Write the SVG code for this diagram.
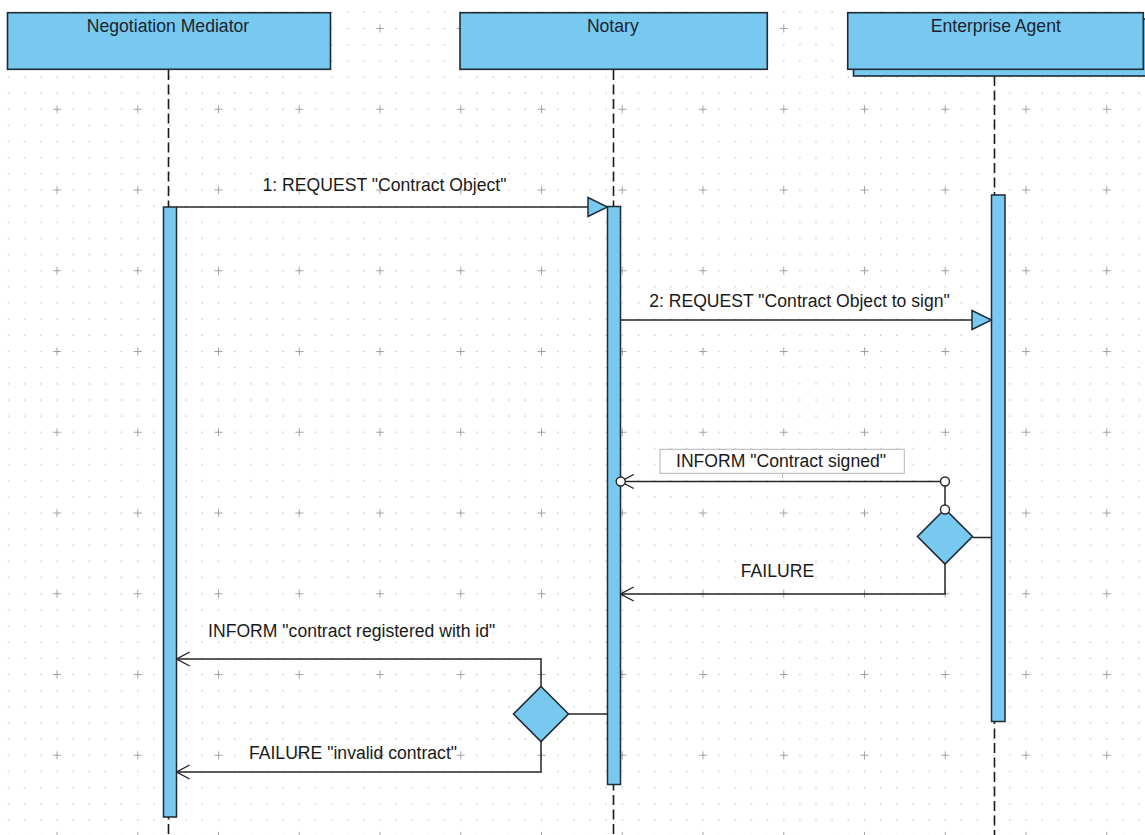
<svg xmlns="http://www.w3.org/2000/svg" width="1145" height="835" viewBox="0 0 1145 835">
  <style>
    .head { fill: #78c9ef; stroke: #1e2a35; stroke-width: 1.6; }
    .bar { fill: #78c9ef; stroke: #1e2a35; stroke-width: 1.5; }
    .life { fill: none; stroke: #1a1a1a; stroke-width: 1.6; stroke-dasharray: 10 4.5; }
    .msg { fill: none; stroke: #262626; stroke-width: 1.5; }
    .gate { fill: #ffffff; stroke: #262626; stroke-width: 1.4; }
    .diamond { fill: #78c9ef; stroke: #1e2a35; stroke-width: 1.6; }
    .title { font-family: "Liberation Sans", Arial, sans-serif; font-size: 17.6px; fill: #1a2430; text-anchor: middle; }
    .label { font-family: "Liberation Sans", Arial, sans-serif; font-size: 17.6px; fill: #1a1a1a; text-anchor: middle; }
  </style>
  <defs>
    <!-- drawing-sheet grid: small dots every 16.15px, a cross every 5th step -->
    <pattern id="grid" patternUnits="userSpaceOnUse" x="16.625" y="-11.875" width="80.75" height="80.75">
      <g fill="#c2c2c2">
        <rect x="7.4" y="7.4" width="1.4" height="1.4"/><rect x="23.5" y="7.4" width="1.4" height="1.4"/><rect x="39.7" y="7.4" width="1.4" height="1.4"/><rect x="55.8" y="7.4" width="1.4" height="1.4"/><rect x="72" y="7.4" width="1.4" height="1.4"/>
        <rect x="7.4" y="23.5" width="1.4" height="1.4"/><rect x="23.5" y="23.5" width="1.4" height="1.4"/><rect x="39.7" y="23.5" width="1.4" height="1.4"/><rect x="55.8" y="23.5" width="1.4" height="1.4"/><rect x="72" y="23.5" width="1.4" height="1.4"/>
        <rect x="7.4" y="39.7" width="1.4" height="1.4"/><rect x="23.5" y="39.7" width="1.4" height="1.4"/><rect x="55.8" y="39.7" width="1.4" height="1.4"/><rect x="72" y="39.7" width="1.4" height="1.4"/>
        <rect x="7.4" y="55.8" width="1.4" height="1.4"/><rect x="23.5" y="55.8" width="1.4" height="1.4"/><rect x="39.7" y="55.8" width="1.4" height="1.4"/><rect x="55.8" y="55.8" width="1.4" height="1.4"/><rect x="72" y="55.8" width="1.4" height="1.4"/>
        <rect x="7.4" y="72" width="1.4" height="1.4"/><rect x="23.5" y="72" width="1.4" height="1.4"/><rect x="39.7" y="72" width="1.4" height="1.4"/><rect x="55.8" y="72" width="1.4" height="1.4"/><rect x="72" y="72" width="1.4" height="1.4"/>
      </g>
      <path d="M36.4,40.4 H44.4 M40.4,36.4 V44.4" stroke="#a0a0a0" stroke-width="1" fill="none"/>
    </pattern>
    <!-- synchronous request: filled triangle -->
    <marker id="sync" viewBox="0 0 22 22" refX="21" refY="11" markerWidth="22" markerHeight="22" markerUnits="userSpaceOnUse" orient="auto">
      <path d="M1.5,1.5 L21,11 L1.5,20.5 Z" fill="#78c9ef" stroke="#1e2a35" stroke-width="1.5"/>
    </marker>
    <!-- reply: open arrowhead -->
    <marker id="open" viewBox="0 0 16 16" refX="15" refY="8" markerWidth="16" markerHeight="16" markerUnits="userSpaceOnUse" orient="auto">
      <path d="M2,1 L15,8 L2,15" fill="none" stroke="#262626" stroke-width="1.4"/>
    </marker>
  </defs>

  <rect x="0" y="0" width="1145" height="835" fill="#ffffff"/>
  <rect x="0" y="0" width="1145" height="835" fill="url(#grid)"/>

  <!-- lifelines -->
  <g id="negotiation-mediator">
    <line class="life" x1="168.5" y1="70" x2="168.5" y2="835"/>
    <rect class="head" x="7.5" y="12.7" width="323" height="56.6"/>
    <text class="title" x="168" y="31.7">Negotiation Mediator</text>
    <rect class="bar" x="163.5" y="207" width="13" height="610"/>
  </g>

  <g id="notary">
    <line class="life" x1="613.5" y1="70" x2="613.5" y2="835"/>
    <rect class="head" x="460" y="12.7" width="307.3" height="56.6"/>
    <text class="title" x="612.8" y="32">Notary</text>
    <rect class="bar" x="607.5" y="206.5" width="13" height="578"/>
  </g>

  <g id="enterprise-agent">
    <line class="life" x1="994.5" y1="76" x2="994.5" y2="835"/>
    <rect class="head" x="853.5" y="19" width="300" height="57"/>
    <rect class="head" x="847.7" y="12.7" width="295.6" height="56.6"/>
    <text class="title" x="995.8" y="31.7">Enterprise Agent</text>
    <rect class="bar" x="991.5" y="195" width="13.5" height="526.5"/>
  </g>

  <!-- messages -->
  <g id="connectors">
    <path class="msg" d="M176.5,207 H607.5" marker-end="url(#sync)"/>
    <path class="msg" d="M620.5,320 H991.5" marker-end="url(#sync)"/>
    <path class="msg" d="M945,481.5 H620.7" marker-end="url(#open)"/>
    <path class="msg" d="M945,481.5 V509"/>
    <path class="msg" d="M972.5,537.5 H991.5"/>
    <path class="msg" d="M945,564 V594 H620.7" marker-end="url(#open)"/>
    <path class="msg" d="M568.5,714 H607.5"/>
    <path class="msg" d="M541,686.5 V659 H176.7" marker-end="url(#open)"/>
    <path class="msg" d="M541,741.5 V772 H176.7" marker-end="url(#open)"/>
    <circle class="gate" cx="620.7" cy="481.5" r="4.5"/>
    <circle class="gate" cx="945" cy="481.5" r="4.5"/>
  </g>

  <!-- decision points -->
  <g id="agent-decision">
    <polygon class="diamond" points="945,509 972.5,536.5 945,564 917.5,536.5"/>
    <circle class="gate" cx="945" cy="509.5" r="4.5"/>
  </g>
  <g id="notary-decision">
    <polygon class="diamond" points="541,686.5 568.5,714 541,741.5 513.5,714"/>
  </g>

  <!-- message labels -->
  <g id="label-request-contract">
    <text class="label" x="384.5" y="191">1: REQUEST "Contract Object"</text>
  </g>
  <g id="label-request-sign">
    <text class="label" x="799.5" y="306.5">2: REQUEST "Contract Object to sign"</text>
  </g>
  <g id="label-inform-signed">
    <rect x="660" y="449.3" width="244.3" height="24" fill="#ffffff" stroke="#b4b4b4" stroke-width="1"/>
    <line x1="782.6" y1="473.3" x2="782.6" y2="478" stroke="#b4b4b4" stroke-width="1"/>
    <text class="label" x="781" y="467.3">INFORM "Contract signed"</text>
  </g>
  <g id="label-failure">
    <text class="label" x="777.5" y="576.7">FAILURE</text>
  </g>
  <g id="label-inform-registered">
    <text class="label" x="351.7" y="636.7">INFORM "contract registered with id"</text>
  </g>
  <g id="label-failure-invalid">
    <text class="label" x="353" y="759.3">FAILURE "invalid contract"</text>
  </g>
</svg>
